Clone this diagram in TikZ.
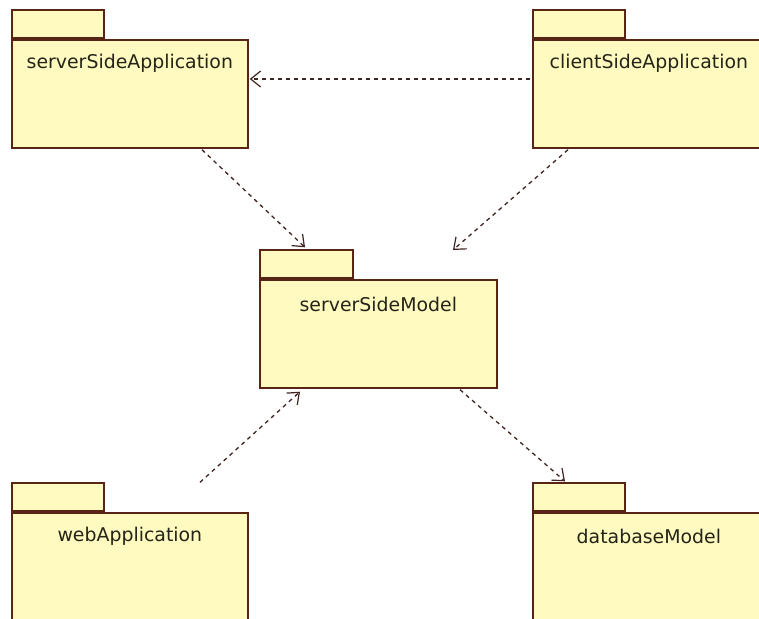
\documentclass[tikz,border=0pt]{standalone}
\usepackage{fontspec}
\setmainfont{DejaVu Sans}
\usetikzlibrary{arrows.meta,calc}

\definecolor{pkgfill}{RGB}{255,250,192}
\definecolor{pkgline}{RGB}{88,36,20}
\definecolor{deplink}{RGB}{64,36,34}
\definecolor{pkgtext}{RGB}{36,36,24}

\tikzset{
  pkgbody/.style={draw=pkgline, fill=pkgfill, line width=1.7pt, rectangle,
    inner sep=0pt, anchor=north west},
  pkgtab/.style={draw=pkgline, fill=pkgfill, line width=1.7pt, rectangle,
    inner sep=0pt, minimum width=92pt, minimum height=28pt, anchor=south west},
  pkgname/.style={text=pkgtext, font=\fontsize{18.9}{22}\selectfont, inner sep=0pt},
  dependency/.style={draw=deplink, line width=1.3pt, dash pattern=on 4pt off 4pt,
    -{Straight Barb[length=10pt,width=16pt,line width=1.2pt]}},
}

\begin{document}
\begin{tikzpicture}[x=1pt,y=-1pt]
  \useasboundingbox (0,0) rectangle (759,618);
  \fill[white] (0,0) rectangle (759,618);
  \clip (0,0) rectangle (759,618);

  % package bodies
  \node[pkgbody, minimum width=236pt, minimum height=108pt] (ssa) at (11,39) {};
  \node[pkgbody, minimum width=232pt, minimum height=108pt] (csa) at (532,39) {};
  \node[pkgbody, minimum width=237pt, minimum height=108pt] (ssm) at (259,279) {};
  \node[pkgbody, minimum width=236pt, minimum height=120pt] (web) at (11,512) {};
  \node[pkgbody, minimum width=232pt, minimum height=120pt] (dbm) at (532,512) {};

  % package tabs
  \node[pkgtab] (ssatab) at (ssa.north west) {};
  \node[pkgtab] (csatab) at (csa.north west) {};
  \node[pkgtab, minimum width=93pt] (ssmtab) at (ssm.north west) {};
  \node[pkgtab] (webtab) at (web.north west) {};
  \node[pkgtab] (dbmtab) at (dbm.north west) {};

  % package names
  \node[pkgname] (ssaname) at ($(ssa.north)+(0,24)$) {serverSideApplication};
  \node[pkgname] (csaname) at ($(csa.north)+(0,24)$) {clientSideApplication};
  \node[pkgname] (ssmname) at ($(ssm.north)+(0,25)$) {serverSideModel};
  \node[pkgname] (webname) at ($(web.north)+(0,24)$) {webApplication};
  \node[pkgname] (dbmname) at ($(dbm.north)+(0,24)$) {databaseModel};

  % dependency end points
  \coordinate (csaW)  at ($(csa.north west)+(-2,40)$);
  \coordinate (ssaE)  at ($(ssa.north east)+(1,40)$);
  \coordinate (ssaS)  at ($(ssa.south west)+(191,1)$);
  \coordinate (ssmT)  at ($(ssmtab.north west)+(46,-2)$);
  \coordinate (csaS)  at ($(csa.south west)+(36,1)$);
  \coordinate (ssmR)  at ($(ssm.north west)+(194,-29)$);
  \coordinate (webN)  at ($(webtab.north west)+(189,0)$);
  \coordinate (ssmB)  at ($(ssm.south west)+(41,3)$);
  \coordinate (ssmS)  at ($(ssm.south west)+(201,1)$);
  \coordinate (dbmT)  at ($(dbmtab.north west)+(33,-1)$);

  % dependencies
  \draw[dependency] (csaW) -- (ssaE);
  \draw[dependency] (ssaS) -- (ssmT);
  \draw[dependency] (csaS) -- (ssmR);
  \draw[dependency] (webN) -- (ssmB);
  \draw[dependency] (ssmS) -- (dbmT);
\end{tikzpicture}
\end{document}
